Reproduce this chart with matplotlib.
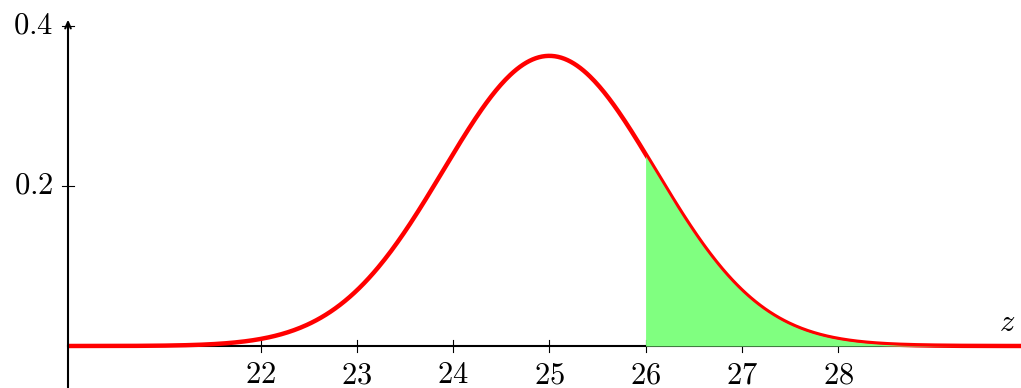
import numpy as np
import matplotlib.pyplot as plt

plt.rcParams['mathtext.fontset'] = 'cm'
plt.rcParams['font.family'] = 'serif'
plt.rcParams['font.serif'] = ['cmr10', 'DejaVu Serif']
plt.rcParams['axes.formatter.use_mathtext'] = True

# Normal curve parameters
mu = 25
sigma = 1.1
shade_from = 26
x_min, x_max = 20, 29.9
x_ticks = [22, 23, 24, 25, 26, 27, 28]
y_ticks = [0.2, 0.4]
y_tick_labels = ['0.2', '0.4']

z = np.linspace(x_min, x_max, 600)
pdf = np.exp(-(z - mu) ** 2 / (2 * sigma ** 2)) / (sigma * np.sqrt(2 * np.pi))
zs = np.linspace(shade_from, x_max, 300)
pdfs = np.exp(-(zs - mu) ** 2 / (2 * sigma ** 2)) / (sigma * np.sqrt(2 * np.pi))

fig = plt.figure(figsize=(10.21, 3.88), dpi=100)
ax = fig.add_axes([68 / 1021, 0, 953 / 1021, 1])
ax.set_xlim(x_min, x_max)
ax.set_ylim(-0.0525, 0.4325)
ax.axis('off')

# axes lines
ax.plot([x_min, x_max], [0, 0], color='black', lw=1.5, zorder=1, clip_on=False)
ax.annotate('', xy=(x_min, 0.408), xytext=(x_min, -0.052),
            arrowprops=dict(arrowstyle='->,head_length=0.45,head_width=0.2',
                            color='black', lw=1.5, shrinkA=0, shrinkB=0))

# curve and shaded tail
ax.plot(z, pdf, color='red', lw=3.2, zorder=2, solid_capstyle='butt')
ax.fill_between(zs, 0, pdfs, color='#80ff80', lw=0, zorder=3)
ax.plot(zs, pdfs, color='red', lw=1.2, zorder=4)

# ticks
dy = 0.0075
dx = 0.06
for t in x_ticks:
    ax.plot([t, t], [-dy, dy], color='black', lw=0.8, zorder=1)
    ax.text(t, -0.0465, '$%d$' % t, ha='center', va='baseline', fontsize=22)
for t, lab in zip(y_ticks, y_tick_labels):
    ax.plot([x_min - dx, x_min + dx], [t, t], color='black', lw=0.8, zorder=1, clip_on=False)
    ax.text(x_min - 0.15, t, '$%s$' % lab, ha='right', va='center', fontsize=22)

ax.text(29.76, 0.011, '$z$', ha='center', va='bottom', fontsize=22)

fig.savefig('out.png', dpi=100)
